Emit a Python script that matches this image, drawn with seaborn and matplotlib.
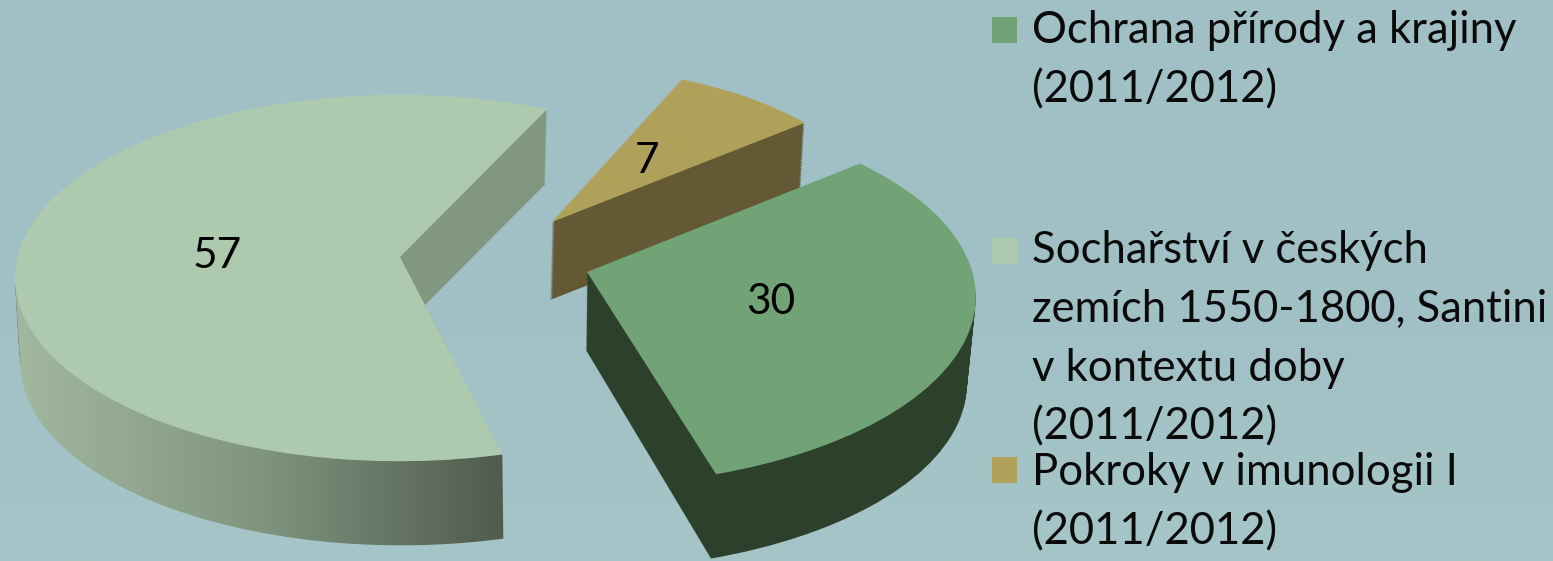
import numpy as np
import seaborn as sns
import matplotlib.pyplot as plt
from matplotlib.colors import LinearSegmentedColormap
from matplotlib.patches import Polygon, Rectangle

# chart values, order as in the legend
values = [30, 57, 7]
legend_lines = [
    ["Ochrana přírody a krajiny", "(2011/2012)"],
    ["Sochařství v českých", "zemích 1550-1800, Santini", "v kontextu doby", "(2011/2012)"],
    ["Pokroky v imunologii I", "(2011/2012)"],
]

top_colors = ["#71a376", "#aecaae", "#b0a15a"]
side_colors = ["#2d402c", "#82977f", "#635935"]
wall_stops = ["#a2b89f", "#7f957f", "#4f5a4c"]
bg_stops = ["#a0c0c6", "#a1c0c6", "#a6c5c8"]

W, H = 1553, 561
RX, RY = 388.0, 185.0
START = 46
# the perspective of the original turns each exploded slice a bit
TURN = [-1, -5.5, -6]
DEPTH_LAYERS = 45


def dx(px):
    return px / RX


def dy(py):
    return (H - py) / RY


sns.set_theme(style="white")
plt.rcParams["font.family"] = ["Lato", "DejaVu Sans"]

fig = plt.figure(figsize=(W / 100, H / 100), dpi=100)
ax = fig.add_axes([0, 0, 1, 1])


def draw_slice(k, cx, cy, radius, apex, zorder, color):
    wedges, _ = ax.pie(values, startangle=START + TURN[k], counterclock=False, radius=radius,
                       center=(dx(cx), dy(cy)), colors=[color] * len(values),
                       wedgeprops={"linewidth": 0, "zorder": zorder})
    for i, w in enumerate(wedges):
        if i != k:
            w.remove()
    w = wedges[k]
    # move the tip, the reference has perspective so it is off the ellipse centre
    verts = w.get_path().vertices
    tip = np.argmin(np.hypot(verts[:, 0] - dx(cx), verts[:, 1] - dy(cy)))
    same = np.hypot(verts[:, 0] - verts[tip, 0], verts[:, 1] - verts[tip, 1]) < 1e-9
    verts[same] = [dx(apex[0]), dy(apex[1])]
    return w


def draw_solid(k, cx, cy, radius, apex, shift, shrink, apex_shift, z):
    # stacked copies from the bottom up give the side of the slice
    for i in range(DEPTH_LAYERS, 0, -1):
        f = i / DEPTH_LAYERS
        draw_slice(k, cx + shift[0] * f, cy + shift[1] * f, radius * (1 - shrink * f),
                   (apex[0] + apex_shift[0] * f, apex[1] + apex_shift[1] * f), z, side_colors[k])
    return draw_slice(k, cx, cy, radius, apex, z + 2, top_colors[k])


# big slice, its stack only shows as the inner face
big = draw_solid(1, 399, 278, 0.99, (400, 257), (0, 73), 0.012, (25, 48), 2)

# gradient on its outer wall
ang = np.radians(np.linspace(180, big.theta2 + 360, 200))
top_x, top_y = dx(399) + 0.99 * np.cos(ang), dy(278) + 0.99 * np.sin(ang)
bot_x = dx(401) + 0.98 * np.cos(ang)
bot_y = dy(364) + 0.98 * np.sin(ang)
wall = Polygon(np.column_stack([np.r_[top_x, bot_x[::-1]], np.r_[top_y, bot_y[::-1]]]),
               closed=True, transform=ax.transData, fc="none", ec="none")
ax.add_patch(wall)
wall_cmap = LinearSegmentedColormap.from_list("wall", wall_stops)
img = ax.imshow(np.linspace(0, 1, 256)[None, :], cmap=wall_cmap, aspect="auto", zorder=3,
                extent=(dx(14), dx(510), dy(561), dy(280)), interpolation="bilinear")
img.set_clip_path(wall)

# yellow and green slices, green sits in front
draw_solid(2, 552, 224, 0.85, (552, 222), (-2, 78), 0.01, (-2, 78), 5)
draw_solid(0, 580, 297, 1.02, (587, 272), (-3, 87), 0.015, (-1, 78), 8)

# background
bg_cmap = LinearSegmentedColormap.from_list("bg", bg_stops)
ax.imshow(np.linspace(0, 1, 256)[:, None], cmap=bg_cmap, aspect="auto", zorder=-1,
          extent=(dx(0), dx(W), dy(H), dy(0)), origin="upper")

ax.set_aspect("auto")
ax.set_xlim(dx(0), dx(W))
ax.set_ylim(dy(H), dy(0))
ax.axis("off")

# value labels
label_px = [(771, 302), (217, 256), (647, 161)]
for v, (x, y) in zip(values, label_px):
    ax.text(dx(x), dy(y), str(v), ha="center", va="center", fontsize=30.5, color="black", zorder=20)

# legend, entries are not evenly spaced in the reference
marker_y = [17, 238, 457]
baselines = [[43, 102], [263, 322, 381, 439], [485, 544]]
for k, lines in enumerate(legend_lines):
    ax.add_patch(Rectangle((dx(992), dy(marker_y[k] + 26)), dx(25), 26 / RY,
                           fc=top_colors[k], ec="none", zorder=20))
    for line, base in zip(lines, baselines[k]):
        ax.text(dx(1032), dy(base), line, ha="left", va="baseline", fontsize=31.4, color="#0a0a0a", zorder=20)

fig.savefig("out.png", dpi=100, facecolor=bg_stops[0])
